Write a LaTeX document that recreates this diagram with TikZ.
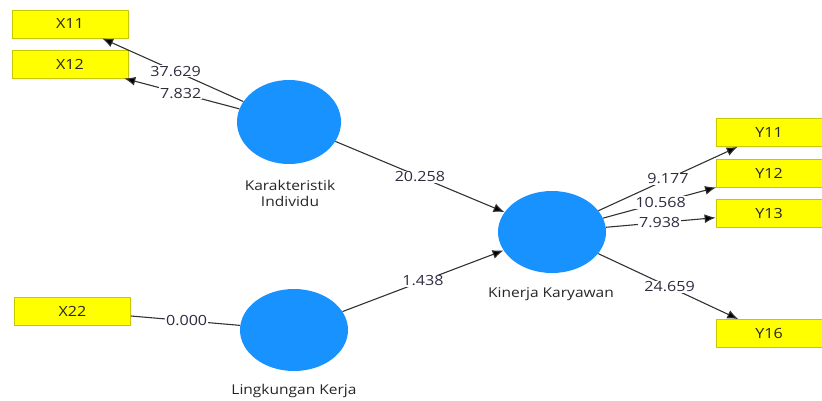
\documentclass[tikz,border=0pt]{standalone}
\usepackage{fontspec}
\setmainfont{Open Sans}[FakeStretch=1.15]
\usetikzlibrary{shapes.geometric,arrows.meta}
\definecolor{boxfill}{RGB}{255,255,0}
\definecolor{boxline}{RGB}{200,200,0}
\definecolor{lv}{RGB}{24,146,255}
\definecolor{edge}{RGB}{50,50,50}
\definecolor{lbl}{RGB}{45,45,65}
\tikzset{
  ind/.style={draw=boxline, fill=boxfill, line width=0.8pt, minimum width=116pt, minimum height=28pt, inner sep=0pt, font=\fontsize{14}{16}\selectfont, text=black!85},
  latent/.style={ellipse, fill=lv, draw=none, minimum width=104pt, minimum height=84pt, inner sep=0pt},
  lvname/.style={font=\fontsize{13.5}{16}\selectfont, text=black!85, align=center},
  conn/.style={draw=edge, line width=1.1pt},
  arr/.style={conn, -{Latex[length=11pt,width=9pt,fill=black]}},
  val/.style={fill=white, inner sep=1pt, font=\fontsize{14}{16}\selectfont, text=lbl}
}
\begin{document}
\begin{tikzpicture}[x=1pt,y=-1pt]
\useasboundingbox (0,0) rectangle (822,401);
% indicators
\node[ind] (x11) at (70,24) {X11};
\node[ind] (x12) at (70,64) {X12};
\node[ind] (x22) at (72.5,311) {X22};
\node[ind, minimum width=106pt] (y11) at (769,132.5) {Y11};
\node[ind, minimum width=106pt] (y12) at (769,173) {Y12};
\node[ind, minimum width=106pt] (y13) at (769,213) {Y13};
\node[ind, minimum width=106pt] (y16) at (769,333.5) {Y16};
% latent variables
\node[latent] (ki) at (289,122) {};
\node[latent, minimum width=108pt, minimum height=82pt] (lk) at (294,330) {};
\node[latent, minimum width=108pt, minimum height=82pt] (kk) at (552,232) {};
\node[lvname] (kit) at (290,193) {Karakteristik\\Individu};
\node[lvname] (lkt) at (294,391) {Lingkungan Kerja};
\node[lvname] (kkt) at (551,294) {Kinerja Karyawan};
% connectors
\draw[arr] (ki) -- node[val, pos=0.48] {37.629} (x11);
\draw[arr] (ki) -- node[val, pos=0.51] {7.832} (x12);
\draw[arr] (ki) -- node[val, pos=0.5] {20.258} (kk);
\draw[arr] (lk) -- node[val, pos=0.5] {1.438} (kk);
\draw[conn] (x22) -- node[val, pos=0.51] {0.000} (lk);
\draw[arr] (kk) -- node[val, pos=0.5] {9.177} (y11);
\draw[arr] (kk) -- node[val, pos=0.51] {10.568} (y12);
\draw[arr] (kk) -- node[val, pos=0.49] {7.938} (y13);
\draw[arr] (kk) -- node[val, pos=0.51] {24.659} (y16);
\end{tikzpicture}
\end{document}
